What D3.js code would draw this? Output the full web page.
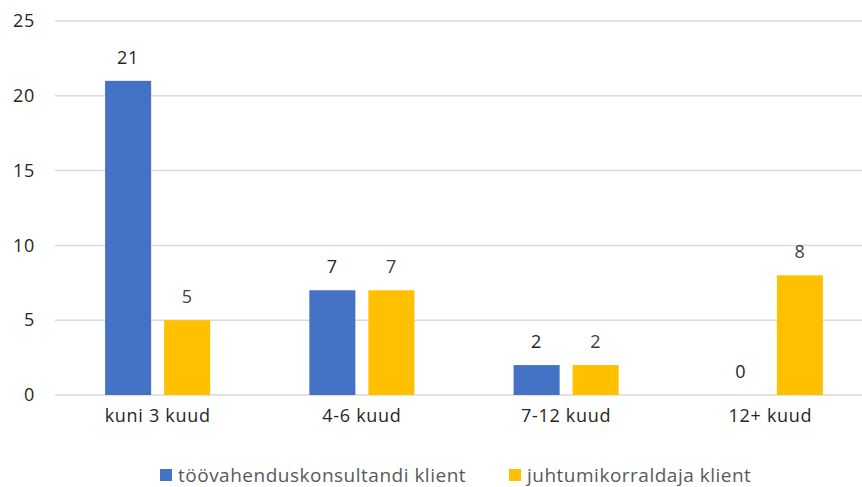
<!DOCTYPE html>
<html>
<head>
<meta charset="utf-8">
<script src="https://cdn.jsdelivr.net/npm/d3@7"></script>
<style>
  html, body { margin: 0; padding: 0; background: #fff; }
  svg { display: block; font-family: "Open Sans", Lato, sans-serif; }
</style>
</head>
<body>
<svg id="chart" width="862" height="487"></svg>
<script>
// Categories, series and axis ticks
const categories = ["kuni 3 kuud", "4-6 kuud", "7-12 kuud", "12+ kuud"];
const seriesNames = ["töövahenduskonsultandi klient", "juhtumikorraldaja klient"];
const consultantValues = [21, 7, 2, 0];
const caseManagerValues = [5, 7, 2, 8];
const yTicks = [0, 5, 10, 15, 20, 25];

const colors = ["#4472C4", "#FFC000"];
const labelColors = ["#262626", "#404040"];
const seriesValues = [consultantValues, caseManagerValues];

const svg = d3.select("#chart");
const W = 862, H = 487;
const plotLeft = 55, plotTop = 21, plotBottom = 395;
// the plot area runs a little past the right edge of the page
const plotRight = 872.5;
const fontSize = 18;
const spacing = 0.7;

const x = d3.scaleBand()
  .domain(categories)
  .range([plotLeft + 0.5, plotRight])
  .paddingInner(0).paddingOuter(0);

const xInner = d3.scaleBand()
  .domain(d3.range(seriesNames.length))
  .range([0, x.bandwidth()])
  .paddingInner(0.22).paddingOuter(0.84);

const y = d3.scaleLinear().domain([0, 25]).range([plotBottom, plotTop]);

// gridlines
svg.append("g")
  .selectAll("line")
  .data(yTicks)
  .join("line")
  .attr("x1", plotLeft).attr("x2", W)
  .attr("y1", d => y(d)).attr("y2", d => y(d))
  .attr("stroke", "#d9d9d9").attr("stroke-width", 1.5);

// y axis labels
const yAxis = d3.axisLeft(y).tickValues(yTicks).tickSize(0).tickPadding(0);
const yg = svg.append("g").attr("transform", `translate(35,0)`).call(yAxis);
yg.select(".domain").remove();
yg.selectAll("text")
  .attr("font-size", fontSize).attr("fill", "#262626")
  .attr("letter-spacing", spacing)
  .attr("font-family", "'Open Sans', sans-serif");

// x axis labels
const xAxis = d3.axisBottom(x).tickSize(0).tickPadding(0);
const xg = svg.append("g").attr("transform", `translate(0,${y(0) + 14})`).call(xAxis);
xg.select(".domain").remove();
xg.selectAll("text")
  .attr("font-size", fontSize).attr("fill", "#262626")
  .attr("letter-spacing", spacing)
  .attr("font-family", "'Open Sans', sans-serif");

// bars
const groups = svg.append("g")
  .selectAll("g")
  .data(categories)
  .join("g")
  .attr("transform", d => `translate(${x(d)},0)`);

groups.selectAll("rect")
  .data((c, i) => seriesValues.map((vals, s) => ({ s, v: vals[i] })))
  .join("rect")
  .attr("x", d => xInner(d.s))
  .attr("width", xInner.bandwidth())
  .attr("y", d => y(d.v))
  .attr("height", d => y(0) - y(d.v))
  .attr("fill", d => colors[d.s]);

// value labels
groups.selectAll("text.val")
  .data((c, i) => seriesValues.map((vals, s) => ({ s, v: vals[i] })))
  .join("text")
  .attr("class", "val")
  .attr("x", d => xInner(d.s) + xInner.bandwidth() / 2)
  .attr("y", d => y(d.v) - 17)
  .attr("text-anchor", "middle")
  .attr("font-size", fontSize)
  .attr("letter-spacing", spacing)
  .attr("fill", d => labelColors[d.s])
  .text(d => d.v);

// legend
const legendX = [160, 509];
const legend = svg.append("g")
  .selectAll("g")
  .data(seriesNames)
  .join("g")
  .attr("transform", (d, i) => `translate(${legendX[i]},0)`);
legend.append("rect")
  .attr("x", 0).attr("y", 469).attr("width", 12).attr("height", 12)
  .attr("fill", (d, i) => colors[i]);
legend.append("text")
  .attr("x", 18).attr("y", 482)
  .attr("font-size", 19).attr("fill", "#595959")
  .attr("letter-spacing", 0.5)
  .text(d => d);
</script>
</body>
</html>
